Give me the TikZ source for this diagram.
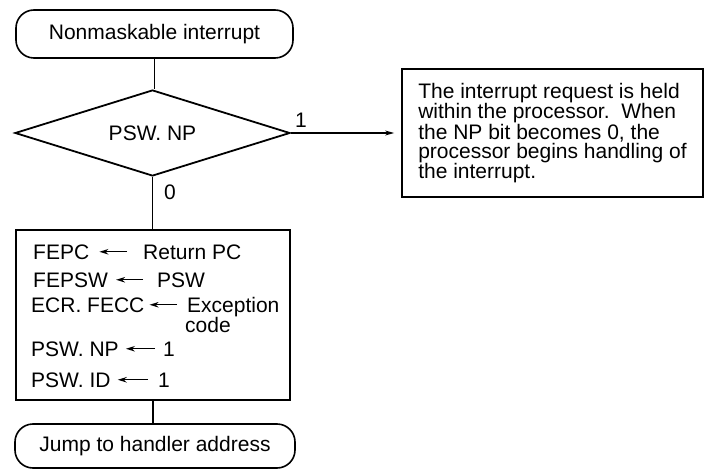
\documentclass[tikz,border=0pt]{standalone}
\usepackage{fontspec}
\setmainfont{Liberation Sans}
\usetikzlibrary{shapes.geometric,arrows.meta}
\begin{document}
\begin{tikzpicture}[x=1pt,y=-1pt,
  every node/.style={font=\fontsize{21}{18.6}\selectfont},
  term/.style={draw,line width=1.6pt,rounded corners=18pt,inner sep=0pt},
  procbox/.style={draw,line width=1.8pt,inner sep=0pt},
  decide/.style={draw,diamond,line width=1.8pt,inner sep=0pt,aspect=3.2},
  txt/.style={anchor=base west,inner sep=0pt},
  conn/.style={line width=1.1pt},
  tarrow/.style={line width=1.3pt,-{Stealth[length=9pt,width=5.5pt]}},
  lbl/.style={anchor=base west,inner sep=0pt}]
\useasboundingbox (0,0) rectangle (706,470);

\node[term,minimum width=277pt,minimum height=48pt] (start) at (154.5,34) {Nonmaskable interrupt};
\node[decide,minimum width=275pt,minimum height=86pt] (dec) at (152.5,133) {PSW. NP};
\node[procbox,minimum width=274pt,minimum height=170pt] (proc) at (153,315) {};
\node[term,minimum width=280pt,minimum height=44pt] (end) at (155,446) {Jump to handler address};
\node[procbox,minimum width=301pt,minimum height=128pt,align=left] (note) at (552.5,133)
  {The interrupt request is held\\within the processor.\ \ When\\the NP bit becomes 0, the\\processor begins handling of\\the interrupt.};

\draw[conn] (start.south) -- (start.south |- dec.north);
\draw[conn] (dec.south) -- (dec.south |- proc.north);
\draw[conn] (proc.south) -- (proc.south |- end.north);
\draw[conn,-{Stealth[length=9pt,width=5pt]}] (dec.east) -- ([xshift=-7pt]note.west);

\node[lbl] (one) at (295,128) {1};
\node[lbl] (zero) at (164,200) {0};

\node[txt] (a1) at (33,259) {FEPC};
\node[txt] (b1) at (143,259) {Return PC};
\node[txt] (a2) at (33,287) {FEPSW};
\node[txt] (b2) at (157,287) {PSW};
\node[txt] (a3) at (31,312) {ECR. FECC};
\node[txt] (b3) at (187,312) {Exception};
\node[txt] (c3) at (185,332) {code};
\node[txt] (a4) at (31,356) {PSW. NP};
\node[txt] (b4) at (163,356) {1};
\node[txt] (a5) at (31,387) {PSW. ID};
\node[txt] (b5) at (158,387) {1};

\draw[tarrow,shorten <=16pt,shorten >=10pt] (b1.west |- a1.east) -- (a1.east);
\draw[tarrow,shorten <=14pt,shorten >=8pt] (b2.west |- a2.east) -- (a2.east);
\draw[tarrow,shorten <=10pt,shorten >=5pt] (b3.west |- a3.east) -- (a3.east);
\draw[tarrow,shorten <=8pt,shorten >=7pt] (b4.west |- a4.east) -- (a4.east);
\draw[tarrow,shorten <=10pt,shorten >=7pt] (b5.west |- a5.east) -- (a5.east);
\end{tikzpicture}
\end{document}
